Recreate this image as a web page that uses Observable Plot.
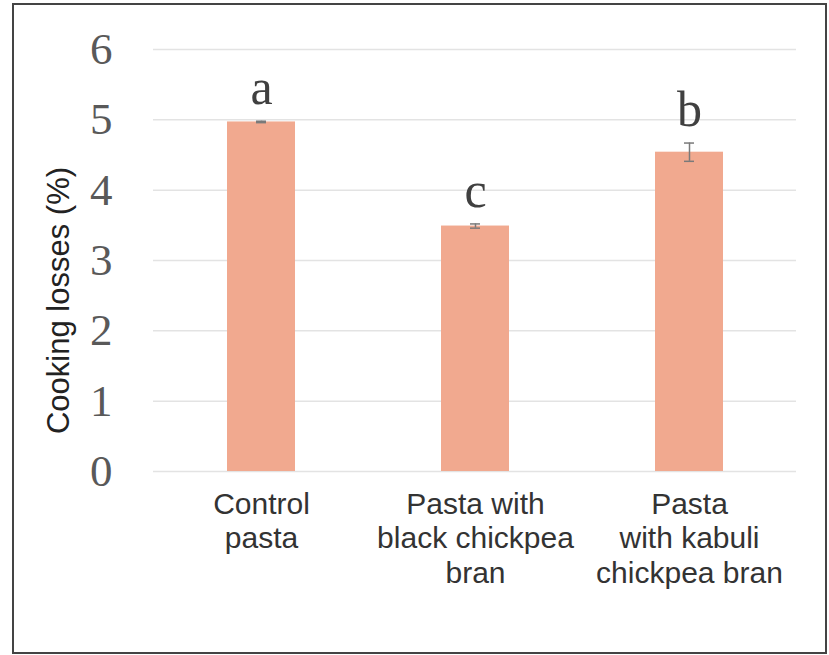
<!DOCTYPE html>
<html>
<head>
<meta charset="utf-8">
<script src="https://cdn.jsdelivr.net/npm/d3@7"></script>
<script src="https://cdn.jsdelivr.net/npm/@observablehq/plot@0.6"></script>
<style>
  html, body { margin: 0; padding: 0; background: #fff; }
  #wrap { position: relative; width: 829px; height: 655px; }
  #border { position: absolute; left: 12px; top: 3px; width: 815px; height: 651px; border: 2px solid #444; box-sizing: border-box; pointer-events: none; }
</style>
</head>
<body>
<div id="wrap"><div id="border"></div></div>
<script>
const categories = ["Control\npasta", "Pasta with\nblack chickpea\nbran", "Pasta\nwith kabuli\nchickpea bran"];
const values = [4.97, 3.49, 4.54];
const errors = [0.01, 0.03, 0.13];
const letters = ["a", "c", "b"];
const yTicks = [0, 1, 2, 3, 4, 5, 6];
const yLabel = "Cooking losses (%)";

const data = categories.map((c, i) => ({cat: c, v: values[i], e: errors[i], l: letters[i]}));

const chart = Plot.plot({
  width: 829,
  height: 655,
  marginLeft: 153,
  marginRight: 33,
  marginTop: 49,
  marginBottom: 184,
  style: {background: "transparent", overflow: "visible"},
  x: {domain: categories, padding: 0},
  y: {domain: [0, 6]},
  marks: [
    Plot.ruleY(yTicks, {stroke: "#e3e3e3", strokeWidth: 1.5}),
    Plot.barY(data, {x: "cat", y: "v", fill: "#F1A98F", insetLeft: 73, insetRight: 73}),
    Plot.ruleX(data, {x: "cat", y1: d => d.v - d.e, y2: d => d.v + d.e, stroke: "#7a7a7a", strokeWidth: 1.5}),
    Plot.tickY(data, {x: "cat", y: d => d.v + d.e, stroke: "#7a7a7a", strokeWidth: 1.5, insetLeft: 102, insetRight: 102}),
    Plot.tickY(data, {x: "cat", y: d => d.v - d.e, stroke: "#7a7a7a", strokeWidth: 1.5, insetLeft: 102, insetRight: 102}),
    Plot.text(data, {x: "cat", y: d => d.v + d.e, text: "l", dy: -17, lineAnchor: "bottom",
      fontFamily: "'Liberation Serif', 'Times New Roman', serif", fontSize: 50, fill: "#404040"}),
    Plot.axisY({ticks: yTicks, tickFormat: d3.format("d"), tickSize: 0, tickPadding: 41, label: null,
      fontFamily: "'Liberation Serif', 'Times New Roman', serif", fontSize: 45, color: "#595959"}),
    Plot.axisX({tickSize: 0, tickPadding: 18, label: null, lineHeight: 1.15, lineAnchor: "top",
      fontFamily: "'Liberation Sans', Arial, sans-serif", fontSize: 30, color: "#333", textOverflow: null}),
    Plot.text([yLabel], {frameAnchor: "left", dx: -94, dy: 40, rotate: -90, text: d => d,
      textAnchor: "middle", lineAnchor: "middle",
      fontFamily: "'Liberation Sans', Arial, sans-serif", fontSize: 31, fill: "#222"})
  ]
});
document.getElementById("wrap").prepend(chart);
</script>
</body>
</html>
